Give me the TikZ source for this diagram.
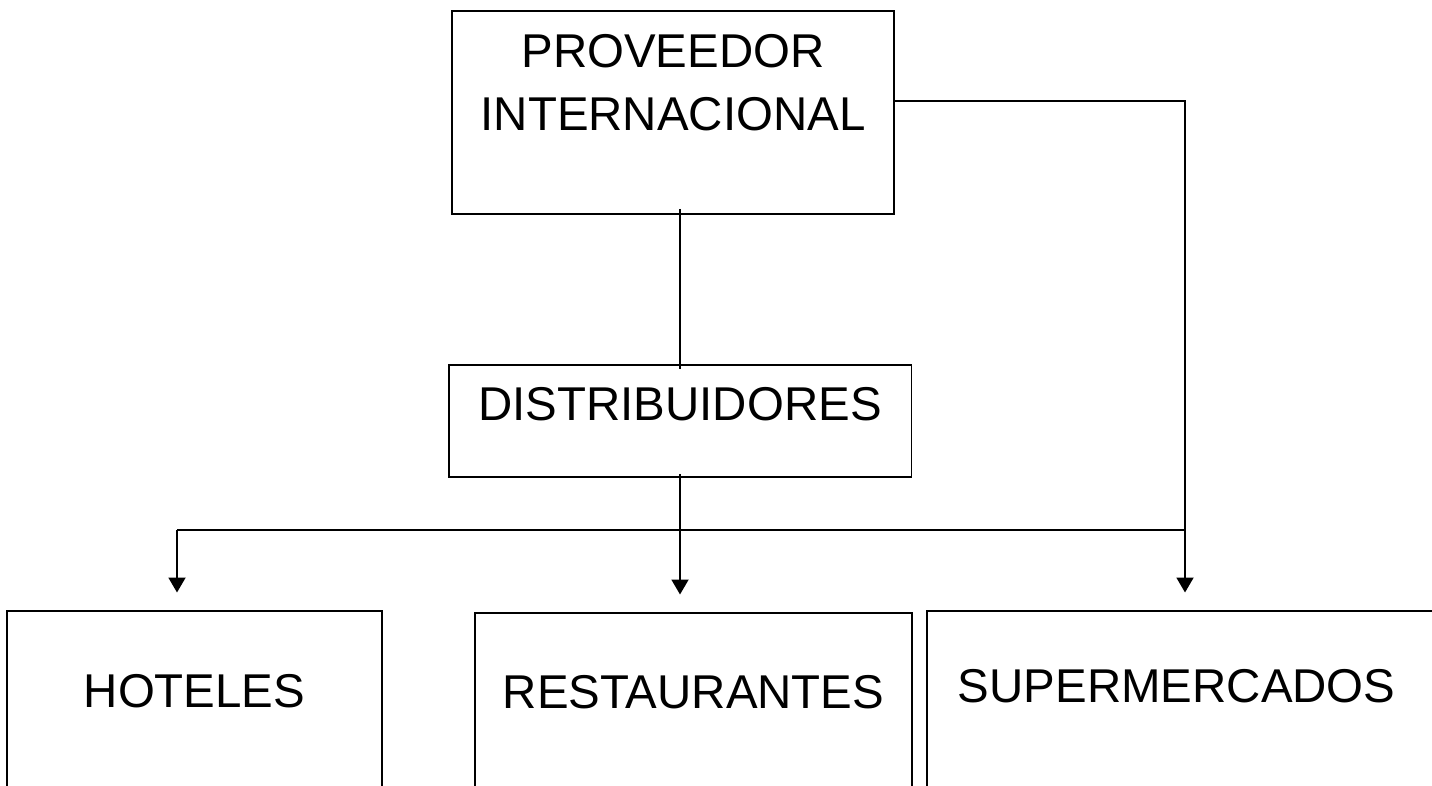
\documentclass[tikz,border=0pt]{standalone}
\usepackage{fontspec}
\setmainfont{Liberation Sans}
\usetikzlibrary{arrows.meta}

\begin{document}
\begin{tikzpicture}[x=0.02cm,y=-0.02cm]
\tikzstyle{every node}+=[inner sep=0pt]
\tikzstyle{caja}=[draw, black, line width=1.1pt, anchor=north, align=center, font=\fontsize{27}{36}\selectfont]
\tikzstyle{linea}=[black, line width=1.1pt]
\tikzstyle{flecha}=[linea, -{Triangle[width=0.34cm,length=0.3cm]}, shorten >=0.35cm]
\useasboundingbox (0,0) rectangle (1432,786);
\clip (0,0) rectangle (1432,786);
% cajas
\node [caja, minimum width=8.84cm, text height=2.4cm, text depth=1.66cm] (prov) at (673,10) {PROVEEDOR\\INTERNACIONAL};
\node [caja, minimum width=9.26cm, text height=1.12cm, text depth=1.12cm] (dist) at (680,364) {DISTRIBUIDORES};
\node [caja, minimum width=7.5cm, text height=1.94cm, text depth=3cm] (hot) at (194.5,610) {HOTELES};
\node [caja, minimum width=8.74cm, text height=1.92cm, text depth=3cm] (rest) at (693.5,612) {RESTAURANTES};
\node [caja, anchor=north west, align=left, inner xsep=0.62cm, text width=9.2cm, text height=1.84cm, text depth=3cm] (super) at (926,610) {SUPERMERCADOS};
% lineas
\coordinate (izq) at (177,530);
\coordinate (der) at (1185,530);
\draw [linea] ([yshift=0.12cm]prov.south -| dist.north) -- ([yshift=-0.1cm]dist.north);
\draw [linea] (izq) -- (der);
\draw [flecha] ([yshift=0.08cm]dist.south) -- (dist.south |- rest.north);
\draw [flecha] (izq) -- (izq |- hot.north);
\draw [flecha] ([yshift=0.23cm]prov.east) -| (der) -- (der |- super.north);
\end{tikzpicture}
\end{document}
